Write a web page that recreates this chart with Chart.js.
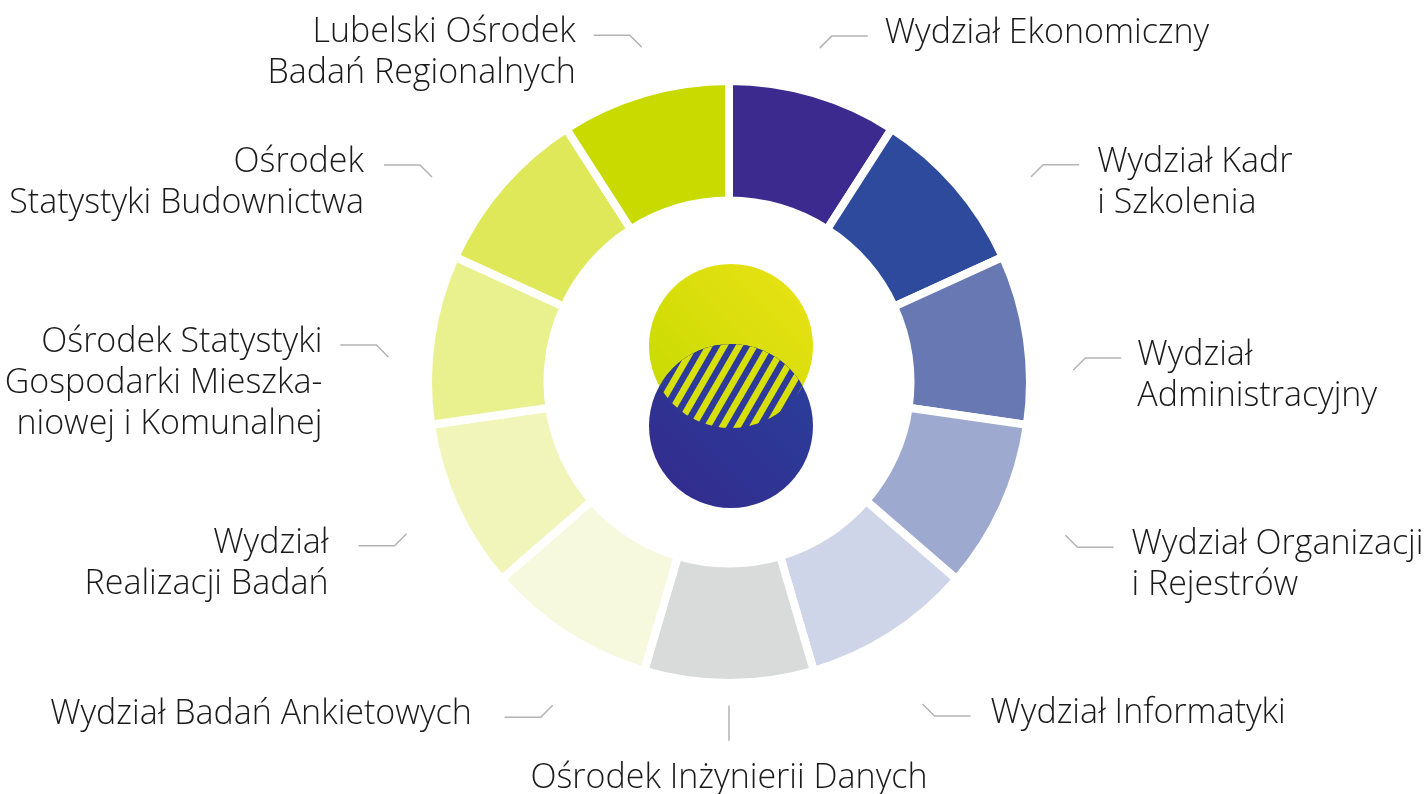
<!DOCTYPE html>
<html lang="pl">
<head>
<meta charset="utf-8">
<title>Struktura</title>
<script src="https://cdn.jsdelivr.net/npm/chart.js@4.4.1/dist/chart.umd.min.js"></script>
<style>
  html, body { margin: 0; padding: 0; background: #fff; }
  #wrap { width: 1427px; height: 794px; position: relative; }
</style>
</head>
<body>
<div id="wrap"><canvas id="chart"></canvas></div>
<script>
// Jednostki (zgodnie z ruchem wskazówek zegara, od góry)
const units = [
    ['Wydział Ekonomiczny'],
    ['Wydział Kadr', 'i Szkolenia'],
    ['Wydział', 'Administracyjny'],
    ['Wydział Organizacji', 'i Rejestrów'],
    ['Wydział Informatyki'],
    ['Ośrodek Inżynierii Danych'],
    ['Wydział Badań Ankietowych'],
    ['Wydział', 'Realizacji Badań'],
    ['Ośrodek Statystyki', 'Gospodarki Mieszka-', 'niowej i Komunalnej'],
    ['Ośrodek', 'Statystyki Budownictwa'],
    ['Lubelski Ośrodek', 'Badań Regionalnych']
];

// każdy segment ma równy udział
const shares = [1, 1, 1, 1, 1, 1, 1, 1, 1, 1, 1];

const colors = [
    '#3c2a8f', '#2d4a9c', '#6878b3', '#9da9cf', '#cfd5e9', '#d9dada',
    '#f6f9de', '#f2f5b9', '#e9f08e', '#dfe858', '#c8da00'
];

// położenie linii odnośników: kąt (stopnie od góry) i odległość względem promienia
const leaderAngle = [15.2, 55.8, 88, 114.5, 149, 180, 208.6, 244.8, 274.2, 304.6, 345.4];
const leaderDist = [1.165, 1.23, 1.16, 1.245, 1.265, 1.09, 1.24, 1.20, 1.15, 1.215, 1.165];
const textGap = [17, 18, 16, 18, 20, 0, 33, 30, 18, 20, 18];

const FONT = '300 34px "Open Sans", "Fira Sans", sans-serif';

// logo w środku pierścienia
const centerLogo = {
    id: 'centerLogo',
    afterDatasetsDraw(chart) {
        const arc = chart.getDatasetMeta(0).data[0];
        const ctx = chart.ctx;
        const cx = arc.x + 2, r = 82;
        const yTop = arc.y - 36, yBot = arc.y + 44;

        ctx.save();
        let g = ctx.createLinearGradient(cx - r, yTop + r, cx + r, yTop - r);
        g.addColorStop(0, '#c4da00');
        g.addColorStop(1, '#ebe215');
        ctx.fillStyle = g;
        ctx.beginPath();
        ctx.arc(cx, yTop, r, 0, Math.PI * 2);
        ctx.fill();

        g = ctx.createLinearGradient(cx - r, yBot + r, cx + r, yBot - r);
        g.addColorStop(0, '#332a8c');
        g.addColorStop(1, '#2a409c');
        ctx.fillStyle = g;
        ctx.beginPath();
        ctx.arc(cx, yBot, r, 0, Math.PI * 2);
        ctx.fill();

        // część wspólna w paski
        ctx.beginPath();
        ctx.arc(cx, yTop, r, 0, Math.PI * 2);
        ctx.clip();
        ctx.beginPath();
        ctx.arc(cx, yBot, r, 0, Math.PI * 2);
        ctx.clip();
        ctx.fillStyle = '#2d3a9a';
        ctx.fillRect(cx - r, yBot - r, 2 * r, yTop - yBot + 2 * r);
        ctx.translate(cx, (yTop + yBot) / 2);
        ctx.rotate(Math.PI / 6);
        ctx.fillStyle = '#d8e00c';
        for (let k = -10; k <= 10; k++) {
            ctx.fillRect(k * 13 - 3.3, -120, 6.6, 240);
        }
        ctx.restore();
    }
};

// linie odnośników i podpisy
const leaderLabels = {
    id: 'leaderLabels',
    afterDraw(chart) {
        const ctx = chart.ctx;
        const arc = chart.getDatasetMeta(0).data[0];
        const cx = arc.x, cy = arc.y, R = 297;
        ctx.save();
        ctx.font = FONT;
        ctx.fillStyle = '#1a1a1a';
        ctx.strokeStyle = '#b3b3b3';
        ctx.lineWidth = 1.5;
        chart.data.labels.forEach((lines, i) => {
            const a = leaderAngle[i] * Math.PI / 180;
            const d = R * leaderDist[i];
            const x0 = cx + d * Math.sin(a);
            const y0 = cy - d * Math.cos(a);
            if (Math.abs(Math.sin(a)) < 0.01) {
                ctx.beginPath();
                ctx.moveTo(x0, y0);
                ctx.lineTo(x0, y0 + 35);
                ctx.stroke();
                ctx.textAlign = 'center';
                ctx.textBaseline = 'alphabetic';
                ctx.fillText(lines[0], x0, y0 + 82);
                return;
            }
            const sx = Math.sin(a) > 0 ? 1 : -1;
            const sy = Math.cos(a) > 0 ? -1 : 1;
            const x1 = x0 + sx * 12, y1 = y0 + sy * 12;
            const x2 = x1 + sx * 36;
            ctx.beginPath();
            ctx.moveTo(x0, y0);
            ctx.lineTo(x1, y1);
            ctx.lineTo(x2, y1);
            ctx.stroke();
            ctx.textAlign = sx > 0 ? 'left' : 'right';
            ctx.textBaseline = 'alphabetic';
            lines.forEach((t, k) => {
                ctx.fillText(t, x2 + sx * textGap[i], y1 + 7 + k * 41);
            });
        });
        ctx.restore();
    }
};

const config = {
    type: 'doughnut',
    data: {
        labels: units,
        datasets: [{
            data: shares,
            backgroundColor: colors,
            borderColor: '#ffffff',
            borderWidth: 8,
            borderJoinStyle: 'miter',
            hoverOffset: 0
        }]
    },
    options: {
        responsive: true,
        maintainAspectRatio: false,
        animation: false,
        radius: 301,
        cutout: '60.3%',
        layout: { padding: { left: 31, right: 0, top: 82, bottom: 112 } },
        events: [],
        plugins: {
            legend: { display: false },
            tooltip: { enabled: false }
        }
    },
    plugins: [centerLogo, leaderLabels]
};

new Chart(document.getElementById('chart').getContext('2d'), config);
</script>
</body>
</html>
